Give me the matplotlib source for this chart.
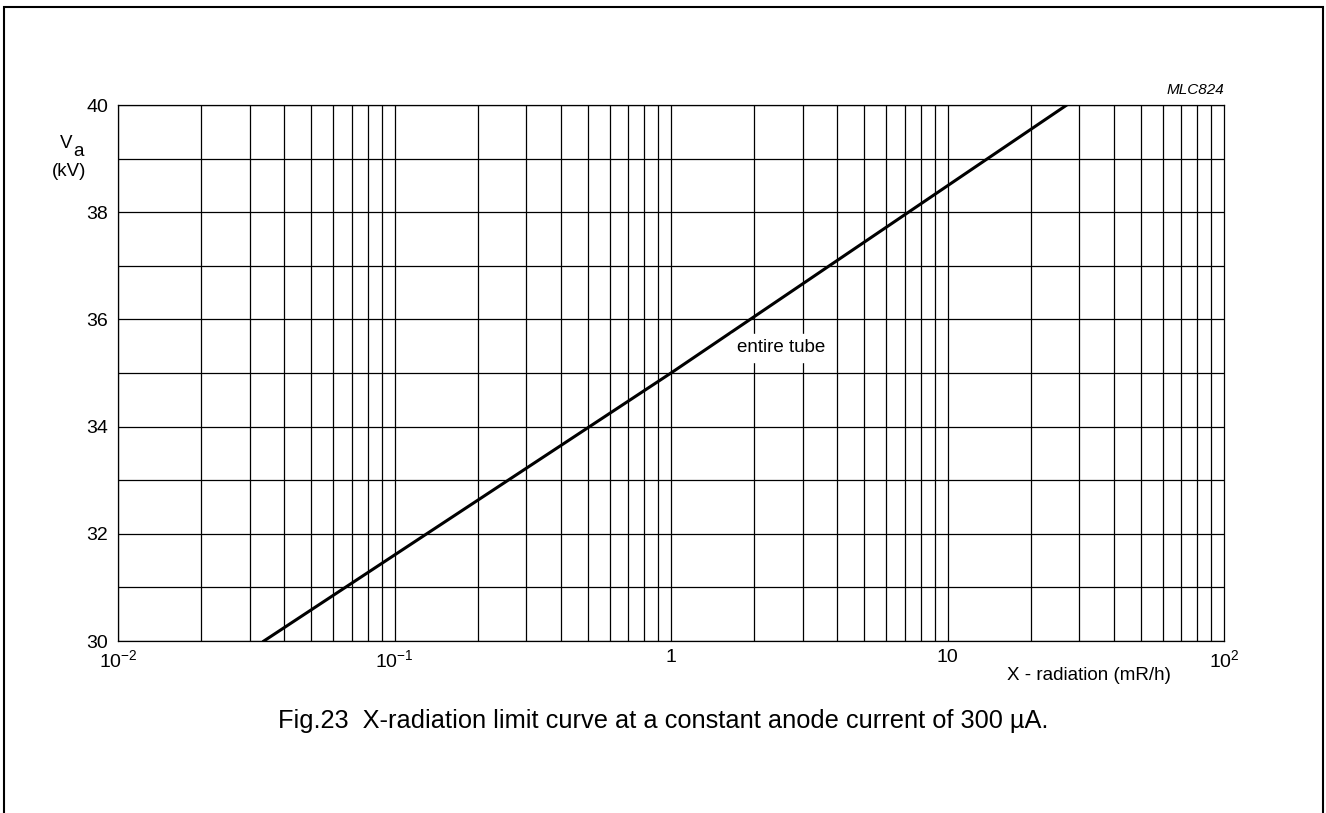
import matplotlib.pyplot as plt
import numpy as np
from matplotlib.patches import Rectangle

plt.rcParams['font.family'] = ['Liberation Sans', 'DejaVu Sans']
plt.rcParams['mathtext.fontset'] = 'custom'
plt.rcParams['mathtext.rm'] = 'Liberation Sans'

# limit curve: X-radiation (mR/h) vs anode voltage (kV)
xr = [0.0337, 1.0, 27.0]
va = [30.0, 35.0, 40.0]

yticks = [30, 32, 34, 36, 38, 40]
xticks = [1e-2, 1e-1, 1, 10, 1e2]
xlabels = ["10$^{-2}$", "10$^{-1}$", "1", "10", "10$^{2}$"]

fig = plt.figure(figsize=(13.26, 8.13), dpi=100)
ax = fig.add_axes([118/1326, 1-641/813, (1224-118)/1326, (641-105)/813])

ax.set_xscale('log')
ax.set_xlim(1e-2, 1e2)
ax.set_ylim(30, 40)

# grid: every kV, every decade sub-division
for v in range(30, 41):
    ax.axhline(v, color='k', lw=0.9, zorder=1)
for d in [1e-2, 1e-1, 1, 10]:
    for m in range(1, 10):
        ax.axvline(d*m, color='k', lw=0.9, zorder=1)

ax.plot(xr, va, color='k', lw=2.2, zorder=3)

ax.text(2.5, 35.47, "entire tube", fontsize=13.5, ha='center', va='center',
        backgroundcolor='white', zorder=4)

ax.set_yticks(yticks)
ax.set_yticklabels([str(v) for v in yticks], fontsize=14)
ax.set_xticks(xticks)
ax.set_xticklabels(xlabels, fontsize=14)
ax.xaxis.set_minor_locator(plt.NullLocator())
ax.tick_params(axis='y', length=0, pad=7)
ax.tick_params(axis='x', length=0, pad=6)
for s in ax.spines.values():
    s.set_linewidth(0.9)

ax.text(1.0, 1.015, "MLC824", transform=ax.transAxes, ha='right', va='bottom',
        fontsize=11, style='italic')

# y axis label "Va (kV)" drawn as pieces to get a full-size subscript
fig.text(66/1326, 1-144/813, "V", ha='center', va='center', fontsize=13.5)
fig.text(79/1326, 1-151/813, "a", ha='center', va='center', fontsize=13.5)
fig.text(69/1326, 1-171/813, "(kV)", ha='center', va='center', fontsize=13.5)

fig.text(1089/1326, 1-676/813, "X - radiation (mR/h)", ha='center', va='center',
         fontsize=13.5)
fig.text(663/1326, 1-721/813, "Fig.23  X-radiation limit curve at a constant anode current of 300 \u00b5A.",
         ha='center', va='center', fontsize=18.3)

# outer frame of the page
fig.patches.append(Rectangle((4/1326, -0.05), 1319/1326, 1.05 - 7/813,
                             transform=fig.transFigure, fill=False,
                             edgecolor='k', lw=1.5))

fig.savefig("out.png", dpi=100)
